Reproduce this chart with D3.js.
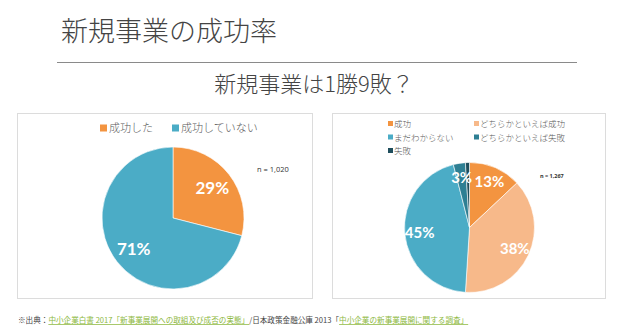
<!DOCTYPE html>
<html lang="ja">
<head>
<meta charset="utf-8">
<script src="https://cdn.jsdelivr.net/npm/d3@7"></script>
<style>
  html, body { margin: 0; padding: 0; background: #fff; }
  svg { display: block; font-family: "Noto Sans CJK JP", "Noto Sans", sans-serif; }
</style>
</head>
<body>
<svg id="chart" width="635" height="333"></svg>
<script>
// Survey 1: did the new business succeed? (n = 1,020)
const leftCategories = ["成功した", "成功していない"];
const leftValues = [29, 71];
const leftColors = ["#F39440", "#4BACC6"];
const leftN = "n = 1,020";

// Survey 2: self-assessed outcome of new business (n = 1,267)
const rightCategories = ["成功", "どちらかといえば成功", "まだわからない", "どちらかといえば失敗", "失敗"];
const rightValues = [13, 38, 45, 3, 1];
const rightLabelled = [true, true, true, true, false];
const rightColors = ["#F39440", "#F7B98A", "#4BACC6", "#2E7F93", "#1F4E5C"];
const rightN = "n = 1,267";

const svg = d3.select("#chart");

// Headings
svg.append("text").attr("x", 61).attr("y", 41)
  .attr("font-size", 27).attr("font-weight", 300).attr("fill", "#444").text("新規事業の成功率");
svg.append("line").attr("x1", 57).attr("x2", 577).attr("y1", 62.5).attr("y2", 62.5)
  .attr("stroke", "#8a8a8a").attr("stroke-width", 1);
svg.append("text").attr("x", 314).attr("y", 92).attr("text-anchor", "middle")
  .attr("font-size", 22).attr("font-weight", 300).attr("fill", "#444").text("新規事業は1勝9敗？");

// Panel frames
svg.append("rect").attr("x", 17.5).attr("y", 113.5).attr("width", 295).attr("height", 185)
  .attr("fill", "#fff").attr("stroke", "#dcdcdc");
svg.append("rect").attr("x", 332.5).attr("y", 113.5).attr("width", 273).attr("height", 185)
  .attr("fill", "#fff").attr("stroke", "#dcdcdc");

function drawPie(cfg) {
  const g = svg.append("g").attr("transform", `translate(${cfg.cx},${cfg.cy})`);
  const pie = d3.pie().sort(null).value(d => d.v);
  const arcs = pie(cfg.values.map((v, i) => ({ v, i })));
  const arc = d3.arc().innerRadius(0).outerRadius(cfg.r);
  const labelArc = d3.arc().innerRadius(cfg.r * cfg.lr).outerRadius(cfg.r * cfg.lr);
  g.selectAll("path").data(arcs).join("path")
    .attr("d", arc)
    .attr("fill", d => cfg.colors[d.data.i])
    .attr("stroke", "#ffffff").attr("stroke-opacity", 0.6).attr("stroke-width", 1);
  g.selectAll("text").data(arcs.filter(d => cfg.labelled[d.data.i])).join("text")
    .attr("transform", d => `translate(${labelArc.centroid(d)})`)
    .attr("text-anchor", "middle").attr("dy", "0.36em")
    .attr("font-family", "Lato, 'Open Sans', sans-serif")
    .attr("font-weight", "bold").attr("font-size", cfg.fs).attr("fill", "#fff")
    .text(d => d.data.v + "%");
}

drawPie({ cx: 173, cy: 218, r: 71, lr: 0.7, fs: 17, values: leftValues, colors: leftColors,
  labelled: leftValues.map(() => true) });
drawPie({ cx: 469.5, cy: 227.5, r: 65, lr: 0.77, fs: 15, values: rightValues, colors: rightColors,
  labelled: rightLabelled });

// Left legend (single row)
const leftLegendX = [100, 172];
leftCategories.forEach((c, i) => {
  svg.append("rect").attr("x", leftLegendX[i]).attr("y", 124.5).attr("width", 7).attr("height", 7)
    .attr("fill", leftColors[i]);
  svg.append("text").attr("x", leftLegendX[i] + 9).attr("y", 132)
    .attr("font-size", 11).attr("font-weight", 300).attr("fill", "#595959").text(c);
});

// Right legend (two columns)
const rightLegendX = [388, 474];
const rightLegendY = [124, 137.5, 151];
rightCategories.forEach((c, i) => {
  const x = rightLegendX[i % 2], y = rightLegendY[Math.floor(i / 2)];
  svg.append("rect").attr("x", x).attr("y", y - 3).attr("width", 5).attr("height", 5)
    .attr("fill", rightColors[i]);
  svg.append("text").attr("x", x + 6).attr("y", y + 3)
    .attr("font-size", 8.5).attr("font-weight", 300).attr("fill", "#595959").text(c);
});

// Sample sizes
svg.append("text").attr("x", 257).attr("y", 172)
  .attr("font-family", "'Open Sans', sans-serif").attr("font-size", 7.5).attr("fill", "#333").text(leftN);
svg.append("text").attr("x", 540).attr("y", 178)
  .attr("font-family", "'Open Sans', sans-serif").attr("font-size", 5.5).attr("font-weight", "bold")
  .attr("fill", "#333").text(rightN);

// Source line
const src = svg.append("text").attr("x", 18).attr("y", 323).attr("font-size", 7.6).attr("fill", "#444");
src.append("tspan").text("※出典：");
src.append("tspan").attr("fill", "#8DB83E").attr("text-decoration", "underline")
  .text("中小企業白書 2017「新事業展開への取組及び成否の実態」");
src.append("tspan").text("/日本政策金融公庫 2013「");
src.append("tspan").attr("fill", "#8DB83E").attr("text-decoration", "underline")
  .text("中小企業の新事業展開に関する調査」");
</script>
</body>
</html>
